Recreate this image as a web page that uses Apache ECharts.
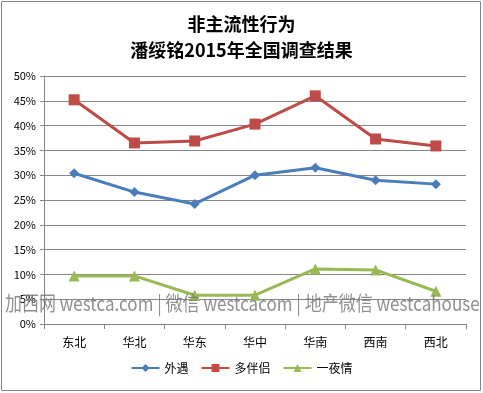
<!DOCTYPE html>
<html><head><meta charset="utf-8">
<script src="https://cdn.jsdelivr.net/npm/echarts@6/dist/echarts.min.js"></script>
<style>html,body{margin:0;padding:0;background:#fff}#c{width:483px;height:393px}</style>
</head><body><div id="c"></div>
<script>
const categories = ['东北','华北','华东','华中','华南','西南','西北'];
const waiyu = [30.4, 26.6, 24.2, 30.0, 31.5, 29.0, 28.2];
const duobanlv = [45.2, 36.5, 36.9, 40.3, 46.0, 37.3, 35.9];
const yiyeqing = [9.7, 9.7, 5.8, 5.8, 11.1, 10.9, 6.6];
const seriesNames = ['外遇','多伴侣','一夜情'];
const colors = ['#4A7EBB','#BE4B48','#98B954'];
const font = '"Noto Sans CJK SC", "DejaVu Sans", sans-serif';

const chart = echarts.init(document.getElementById('c'));
const mk = (name, data, color, symbol, size) => ({
  name, type: 'line', data, symbol, symbolSize: size,
  lineStyle: {color, width: 3}, itemStyle: {color}
});
chart.setOption({
  animation: false,
  title: {
    text: '非主流性行为\n潘绥铭2015年全国调查结果',
    left: 'center', top: 6,
    textStyle: {fontFamily: font, fontSize: 18, fontWeight: 'bold', color: '#000', lineHeight: 26}
  },
  legend: {
    bottom: 14, left: 'center', itemWidth: 28, itemHeight: 10, itemGap: 12,
    textStyle: {fontFamily: font, fontSize: 12, color: '#000'},
    data: seriesNames
  },
  grid: {left: 44, right: 17, top: 76, bottom: 69},
  xAxis: {
    type: 'category', data: categories, boundaryGap: true,
    axisLine: {lineStyle: {color: '#868686'}},
    axisTick: {show: true, length: 5, lineStyle: {color: '#868686'}},
    axisLabel: {fontFamily: font, fontSize: 12, color: '#000', margin: 12}
  },
  yAxis: {
    type: 'value', min: 0, max: 50, interval: 5,
    axisLine: {show: true, lineStyle: {color: '#868686'}},
    axisTick: {show: true, length: 4, lineStyle: {color: '#868686'}},
    splitLine: {lineStyle: {color: '#868686'}},
    axisLabel: {formatter: '{value}%', fontFamily: font, fontSize: 11, color: '#000', margin: 8}
  },
  series: [
    mk(seriesNames[0], waiyu, colors[0], 'diamond', 10),
    mk(seriesNames[1], duobanlv, colors[1], 'rect', 11),
    mk(seriesNames[2], yiyeqing, colors[2], 'triangle', 11)
  ],
  graphic: [
    {type: 'rect', shape: {x: 1.5, y: 1.5, width: 479, height: 389}, style: {fill: 'none', stroke: '#868686', lineWidth: 1}, z: 0},
    {type: 'text', x: 5, y: 293, scaleX: 0.85, z: 100,
     style: {text: '加西网 westca.com | 微信 westcacom | 地产微信 westcahouse', fill: 'rgba(115,115,115,0.8)', fontFamily: font, fontSize: 20}}
  ]
});
</script></body></html>
